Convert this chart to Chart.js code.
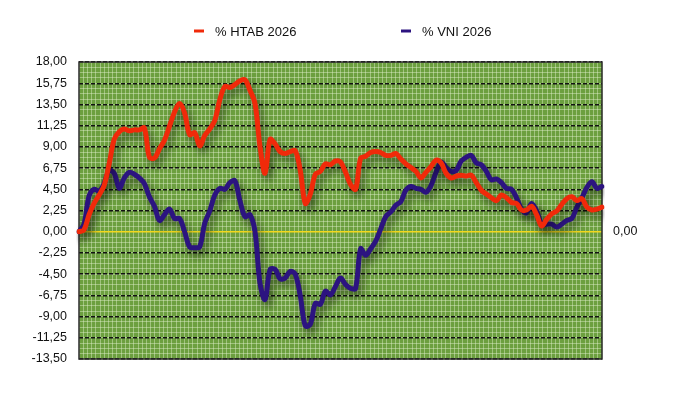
<!DOCTYPE html>
<html>
<head>
<meta charset="utf-8">
<script src="https://cdn.jsdelivr.net/npm/chart.js@4.4.1/dist/chart.umd.min.js"></script>
<style>
  html, body { margin: 0; padding: 0; background: #fff; }
  #wrap { width: 690px; height: 402px; }
</style>
</head>
<body>
<div id="wrap"><canvas id="chart"></canvas></div>
<script>
// series, one value per session
const seriesNames = ['% HTAB 2026', '% VNI 2026'];
const seriesColors = ['#f02a0a', '#2c1480'];

const htab = [
  0.0, 0.2, 1.8, 3.0, 3.9, 4.9, 7.2, 9.8, 10.6, 10.9,
  10.7, 10.8, 10.8, 11.0, 7.9, 7.8, 8.8, 9.7, 11.2, 12.7,
  13.6, 12.6, 10.3, 10.5, 9.1, 10.2, 10.9, 11.8, 14.0, 15.4,
  15.3, 15.6, 16.0, 16.1, 15.0, 13.6, 9.0, 6.2, 9.8, 9.3,
  8.5, 8.3, 8.5, 8.6, 6.5, 3.0, 4.0, 6.1, 6.4, 7.2,
  7.1, 7.5, 7.4, 6.3, 5.0, 4.5, 7.8, 8.0, 8.4, 8.5,
  8.4, 8.1, 8.1, 8.3, 7.7, 7.2, 6.8, 6.4, 5.7, 6.3,
  6.9, 7.6, 7.3, 6.2, 5.7, 5.9, 6.0, 5.9, 6.0, 5.2,
  4.4, 4.0, 3.6, 3.3, 3.9, 3.6, 3.1, 3.0, 2.3, 2.3,
  2.7, 1.8, 0.6, 1.3, 1.9, 2.2, 2.9, 3.5, 3.7, 3.3,
  3.5, 2.6, 2.3, 2.4, 2.6
];

const vni = [
  0.0, 0.8, 3.8, 4.5, 4.3, 5.1, 6.5, 6.2, 4.6, 5.7,
  6.3, 6.1, 5.7, 5.1, 3.7, 2.7, 1.2, 1.8, 2.4, 1.4,
  1.4, 0.0, -1.6, -1.7, -1.6, 0.9, 2.2, 3.9, 4.6, 4.5,
  5.2, 5.4, 3.3, 1.6, 1.8, 0.0, -5.5, -7.2, -4.0, -4.0,
  -5.0, -4.9, -4.2, -4.5, -6.8, -10.0, -9.8, -7.6, -7.7, -6.3,
  -6.7, -5.8, -4.9, -5.6, -6.0, -6.0, -1.8, -2.5, -1.8, -1.0,
  0.3, 1.6, 2.1, 2.8, 3.2, 4.4, 4.8, 4.6, 4.5, 4.2,
  4.9, 6.3, 7.4, 6.8, 6.4, 6.5, 7.5, 7.9, 8.1, 7.3,
  7.1, 6.4, 5.5, 5.6, 5.2, 4.6, 4.5, 3.6, 2.4, 2.0,
  3.0, 2.2, 0.8, 0.8, 0.8, 0.5, 0.8, 1.2, 1.4, 2.6,
  3.6, 4.7, 5.3, 4.6, 4.8
];

const sessions = htab.map((v, i) => String(i + 1));

const yMin = -13.5;
const yMax = 18;
const yStep = 2.25;

const fmt = v => v.toFixed(2).replace('.', ',');
const FONT = '"Liberation Sans", Arial, Helvetica, sans-serif';

// green plot background + frame
const plotBg = {
    id: 'plotBg',
    beforeDraw(chart) {
        const { ctx, chartArea: a } = chart;
        ctx.save();
        ctx.fillStyle = '#6c9f3f';
        ctx.fillRect(a.left, a.top, a.width, a.height);
        ctx.restore();
    },
    beforeDatasetsDraw(chart) {
        const { ctx, chartArea: a } = chart;
        ctx.save();
        ctx.strokeStyle = '#2a2a2a';
        ctx.lineWidth = 1.5;
        ctx.strokeRect(a.left, a.top, a.width, a.height);
        ctx.restore();
    }
};

// soft drop shadow under the lines
const lineShadow = {
    id: 'lineShadow',
    beforeDatasetDraw(chart) {
        const ctx = chart.ctx;
        ctx.save();
        ctx.shadowColor = 'rgba(0,0,0,0.55)';
        ctx.shadowBlur = 9;
        ctx.shadowOffsetX = 3;
        ctx.shadowOffsetY = 5;
    },
    afterDatasetDraw(chart) {
        chart.ctx.restore();
    }
};

// legend drawn by hand so the spacing matches
const topLegend = {
    id: 'topLegend',
    afterDraw(chart) {
        const ctx = chart.ctx;
        const starts = [194, 401];
        const y = 31;
        ctx.save();
        ctx.font = '13px ' + FONT;
        ctx.textBaseline = 'middle';
        chart.data.datasets.forEach((ds, i) => {
            ctx.strokeStyle = ds.borderColor;
            ctx.lineWidth = 3;
            ctx.beginPath();
            ctx.moveTo(starts[i], y);
            ctx.lineTo(starts[i] + 10, y);
            ctx.stroke();
            ctx.fillStyle = '#111';
            ctx.fillText(ds.label, starts[i] + 21, y + 1);
        });
        ctx.restore();
    }
};

new Chart(document.getElementById('chart'), {
    type: 'line',
    data: {
        labels: sessions,
        datasets: [
            {
                label: seriesNames[0],
                data: htab,
                borderColor: seriesColors[0],
                borderWidth: 5,
                pointRadius: 0,
                tension: 0.35,
                borderCapStyle: 'round',
                borderJoinStyle: 'round'
            },
            {
                label: seriesNames[1],
                data: vni,
                borderColor: seriesColors[1],
                borderWidth: 5,
                pointRadius: 0,
                tension: 0.35,
                borderCapStyle: 'round',
                borderJoinStyle: 'round'
            }
        ]
    },
    options: {
        responsive: true,
        maintainAspectRatio: false,
        animation: false,
        layout: { padding: { top: 62, bottom: 43, left: 0, right: 0 } },
        plugins: {
            legend: { display: false },
            tooltip: { enabled: false }
        },
        scales: {
            x: {
                display: false
            },
            x2: {
                type: 'linear',
                position: 'bottom',
                min: 0,
                max: 124,
                ticks: { display: false, stepSize: 1 },
                grid: { color: 'rgba(225,240,205,0.45)', lineWidth: 1, drawTicks: false },
                border: { display: false },
                afterFit(scale) { scale.height = 0; }
            },
            y2: {
                type: 'linear',
                position: 'left',
                min: yMin,
                max: yMax,
                ticks: { display: false, stepSize: yStep / 4 },
                grid: { color: 'rgba(225,240,205,0.45)', lineWidth: 1, drawTicks: false },
                border: { display: false },
                afterFit(scale) { scale.width = 0; }
            },
            y: {
                min: yMin,
                max: yMax,
                position: 'left',
                ticks: {
                    stepSize: yStep,
                    color: '#111',
                    padding: 12,
                    font: { family: FONT, size: 12.5 },
                    callback: v => fmt(v)
                },
                grid: {
                    drawTicks: false,
                    color: c => c.tick && c.tick.value === 0 ? '#f2d81c' : '#111',
                    lineWidth: c => c.tick && c.tick.value === 0 ? 1.5 : 1.4
                },
                border: {
                    display: false,
                    dash: c => c.tick && c.tick.value === 0 ? [] : [4, 2]
                },
                afterFit(scale) { scale.width = 79; }
            },
            yR: {
                type: 'linear',
                position: 'right',
                min: yMin,
                max: yMax,
                afterBuildTicks(scale) { scale.ticks = [{ value: 0 }]; },
                ticks: {
                    color: '#111',
                    padding: 11,
                    font: { family: FONT, size: 12.5 },
                    callback: v => fmt(v)
                },
                grid: { display: false, drawTicks: false },
                border: { display: false },
                afterFit(scale) { scale.width = 88; }
            }
        }
    },
    plugins: [plotBg, lineShadow, topLegend]
});
</script>
</body>
</html>
